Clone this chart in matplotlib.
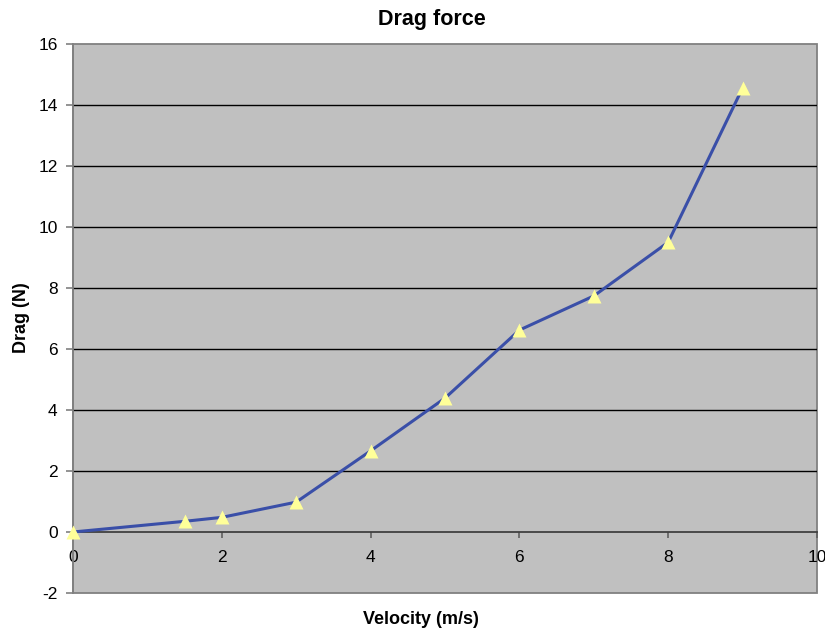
import matplotlib.pyplot as plt
from matplotlib.patches import Rectangle

velocity = [0, 1.5, 2, 3, 4, 5, 6, 7, 8, 9]
drag = [0, 0.35, 0.48, 0.98, 2.66, 4.39, 6.62, 7.74, 9.5, 14.56]
x_ticks = [0, 2, 4, 6, 8, 10]
y_ticks = [-2, 0, 2, 4, 6, 8, 10, 12, 14, 16]


def main():
    """Draws the drag force vs velocity chart"""

    plt.rcParams['font.family'] = ['Liberation Sans', 'DejaVu Sans']
    plt.rcParams['axes.unicode_minus'] = False
    fig = plt.figure(figsize=(8.25, 6.32), dpi=100)
    ax = fig.add_axes([73 / 825, 1 - 593 / 632, 744 / 825, 549 / 632])
    ax.set_facecolor('#c0c0c0')

    ax.set_xlim(0, 10)
    ax.set_ylim(-2, 16)
    ax.set_xticks(x_ticks)
    ax.set_yticks(y_ticks)

    for y in y_ticks[2:-1]:
        ax.axhline(y, color='black', lw=1, zorder=1)

    for side in ['top', 'right']:
        ax.spines[side].set_visible(False)
    ax.spines['left'].set_color('#808080')
    ax.spines['left'].set_linewidth(1.3)
    ax.spines['bottom'].set_position(('data', 0))
    ax.spines['bottom'].set_color('#404040')
    ax.spines['bottom'].set_linewidth(1.3)
    ax.add_patch(Rectangle((0, 0), 1, 1, transform=ax.transAxes,
                           fill=False, edgecolor='#808080', lw=1.3,
                           clip_on=False, zorder=0.5))

    ax.tick_params(axis='y', direction='out', length=5, width=1.2,
                   color='#808080', labelsize=12.5, pad=6)
    ax.tick_params(axis='x', direction='out', length=4, width=1.2,
                   color='#606060', labelsize=12.5, pad=9)

    ax.plot(velocity, drag, color='#3a4fa8', lw=2.2, zorder=3)
    ax.plot(velocity, drag, ls='none', marker='^', ms=10,
            color='#ffff99', mec='none', zorder=4, clip_on=False)

    fig.text(432 / 825, 1 - 20 / 632, 'Drag force', ha='center',
             va='center', fontsize=15.5, fontweight='bold')
    fig.text(421 / 825, 1 - 619 / 632, 'Velocity (m/s)', ha='center',
             va='center', fontsize=13, fontweight='bold')
    fig.text(21 / 825, 1 - 318 / 632, 'Drag (N)', ha='center',
             va='center', fontsize=13, fontweight='bold', rotation=90)

    fig.savefig('out.png', dpi=100)


if __name__ == "__main__":
    main()
